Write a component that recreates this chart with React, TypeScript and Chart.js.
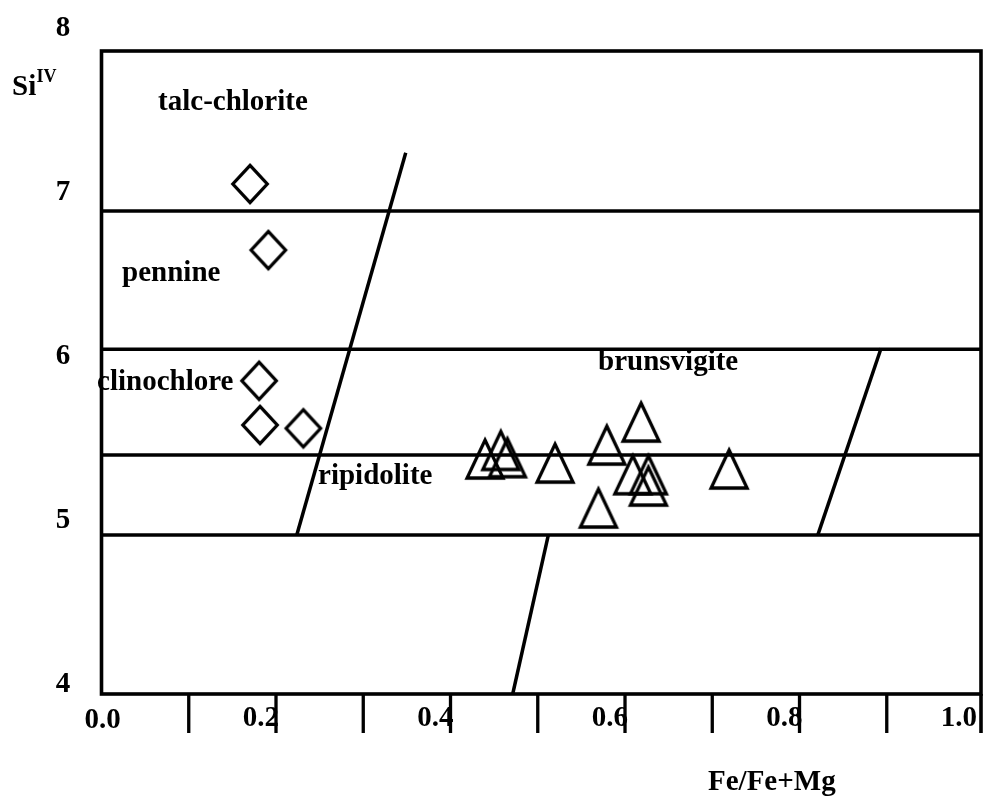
import React, { useEffect, useRef } from 'react';
import { Chart, registerables } from 'chart.js';

Chart.register(...registerables);

// ---- axes ----
const X_MIN = 0;
const X_MAX = 1.008;
const Y_MIN = 3.927;
const Y_MAX = 7.848;
const xTickValues = [0.1, 0.2, 0.3, 0.4, 0.5, 0.6, 0.7, 0.8, 0.9];
const xTickLabelValues = [0, 0.2, 0.4, 0.6, 0.8, 1.0];
const xTickLabels = ['0.0', '0.2', '0.4', '0.6', '0.8', '1.0'];
const yTickLabelValues = [4, 5, 6, 7, 8];
const yTickLabels = ['4', '5', '6', '7', '8'];

// ---- field boundaries ----
const boundaryY = [6.872, 6.03, 5.384, 4.896];
const leftSlopeX = [0.3487, 0.2238];
const leftSlopeY = [7.227, 4.896];
const midSlopeX = [0.5121, 0.4713];
const midSlopeY = [4.896, 3.927];
const rightSlopeX = [0.8935, 0.8209];
const rightSlopeY = [6.035, 4.896];

// ---- samples ----
const diamondX = [0.1702, 0.1912, 0.1806, 0.1817, 0.2313];
const diamondY = [7.037, 6.634, 5.837, 5.567, 5.547];
const triangleX = [0.4396, 0.4576, 0.4652, 0.5198, 0.5791, 0.6184, 0.6089, 0.6268, 0.6268, 0.5695, 0.7193];
const triangleY = [5.366, 5.418, 5.374, 5.341, 5.451, 5.591, 5.27, 5.27, 5.201, 5.067, 5.305];

// ---- field names ----
const fieldNames = ['talc-chlorite', 'pennine', 'clinochlore', 'ripidolite', 'brunsvigite'];
const fieldX = [0.0648, 0.0236, -0.0051, 0.2482, 0.5691];
const fieldY = [7.488, 6.445, 5.78, 5.207, 5.902];

const FONT = '"Liberation Serif", "Times New Roman", serif';
const FONT_SIZE = 29;

function makeTriangle(): HTMLCanvasElement {
  const c = document.createElement('canvas');
  c.width = 46;
  c.height = 48;
  const g = c.getContext('2d')!;
  g.strokeStyle = '#000';
  g.lineWidth = 3.3;
  g.lineJoin = 'miter';
  g.beginPath();
  g.moveTo(23, 6);
  g.lineTo(41, 44);
  g.lineTo(5, 44);
  g.closePath();
  g.stroke();
  return c;
}

function makeDiamond(): HTMLCanvasElement {
  const c = document.createElement('canvas');
  c.width = 42;
  c.height = 46;
  const g = c.getContext('2d')!;
  g.strokeStyle = '#000';
  g.lineWidth = 3.3;
  g.lineJoin = 'miter';
  g.beginPath();
  g.moveTo(21, 4.4);
  g.lineTo(38.2, 23);
  g.lineTo(21, 41.6);
  g.lineTo(3.8, 23);
  g.closePath();
  g.stroke();
  return c;
}

function lineSet(xs: number[], ys: number[]) {
  return {
    data: xs.map((x, i) => ({ x, y: ys[i] })),
    showLine: true,
    borderColor: '#000',
    borderWidth: 3.5,
    pointRadius: 0,
    pointHoverRadius: 0,
    fill: false,
    tension: 0,
    borderCapStyle: 'butt' as const,
  };
}

const TICK_LEN = 39;

const overlay = {
  id: 'overlay',
  afterDraw(chart: any) {
    const { ctx, chartArea: a, scales } = chart;
    const x = scales.x;
    const y = scales.y;
    ctx.save();
    ctx.strokeStyle = '#000';
    ctx.lineCap = 'butt';
    ctx.lineJoin = 'miter';
    // frame
    ctx.lineWidth = 3.6;
    ctx.strokeRect(a.left, a.top, a.right - a.left, a.bottom - a.top);
    ctx.beginPath();
    ctx.moveTo(a.right, a.bottom);
    ctx.lineTo(a.right, a.bottom + TICK_LEN);
    ctx.stroke();
    // x ticks
    ctx.lineWidth = 3.3;
    ctx.beginPath();
    xTickValues.forEach((v) => {
      const px = x.getPixelForValue(v);
      ctx.moveTo(px, a.bottom);
      ctx.lineTo(px, a.bottom + TICK_LEN);
    });
    ctx.stroke();

    ctx.fillStyle = '#000';
    ctx.textBaseline = 'alphabetic';
    ctx.font = `bold ${FONT_SIZE}px ${FONT}`;
    // x labels
    xTickLabelValues.forEach((v, i) => {
      const px = x.getPixelForValue(v);
      if (v === 0) {
        ctx.textAlign = 'center';
        ctx.fillText(xTickLabels[i], px + 1, a.bottom + 34);
      } else {
        ctx.textAlign = 'right';
        ctx.fillText(xTickLabels[i], px + 3, a.bottom + 32);
      }
    });
    // y labels
    ctx.textAlign = 'center';
    yTickLabelValues.forEach((v, i) => {
      ctx.fillText(yTickLabels[i], a.left - 38.5, y.getPixelForValue(v) + 9.5);
    });
    // field names
    ctx.textAlign = 'left';
    fieldNames.forEach((n, i) => {
      ctx.fillText(n, x.getPixelForValue(fieldX[i]), y.getPixelForValue(fieldY[i]));
    });
    // axis titles
    ctx.fillText('Si', a.left - 89.5, a.top + 44);
    ctx.font = `bold 18px ${FONT}`;
    ctx.fillText('IV', a.left - 65, a.top + 31);
    ctx.font = `bold ${FONT_SIZE}px ${FONT}`;
    ctx.fillText('Fe/Fe+Mg', a.left + 606.5, a.bottom + 96);
    ctx.restore();
  },
};

export default function App() {
  const ref = useRef<HTMLCanvasElement>(null);
  useEffect(() => {
    document.body.style.margin = '0';
    document.body.style.overflow = 'hidden';
    const canvas = ref.current!;
    const tri = makeTriangle();
    const dia = makeDiamond();
    const chart = new Chart(canvas, {
      type: 'scatter',
      data: {
        datasets: [
          ...boundaryY.map((b) => lineSet([X_MIN, X_MAX], [b, b])),
          lineSet(leftSlopeX, leftSlopeY),
          lineSet(midSlopeX, midSlopeY),
          lineSet(rightSlopeX, rightSlopeY),
          {
            data: diamondX.map((x, i) => ({ x, y: diamondY[i] })),
            pointStyle: dia,
            pointRadius: 20,
            pointHoverRadius: 20,
            showLine: false,
          } as any,
          {
            data: triangleX.map((x, i) => ({ x, y: triangleY[i] })),
            pointStyle: tri,
            pointRadius: 20,
            pointHoverRadius: 20,
            showLine: false,
          } as any,
        ],
      },
      options: {
        animation: false,
        responsive: false,
        devicePixelRatio: 1,
        events: [],
        layout: { autoPadding: false, padding: { left: 101.5, right: 2, top: 51, bottom: 102 } },
        plugins: { legend: { display: false }, tooltip: { enabled: false } },
        scales: {
          x: { type: 'linear', min: X_MIN, max: X_MAX, display: false },
          y: { type: 'linear', min: Y_MIN, max: Y_MAX, display: false },
        },
      },
      plugins: [overlay],
    });
    return () => chart.destroy();
  }, []);
  return <canvas ref={ref} width={983} height={796} style={{ display: 'block' }} />;
}
